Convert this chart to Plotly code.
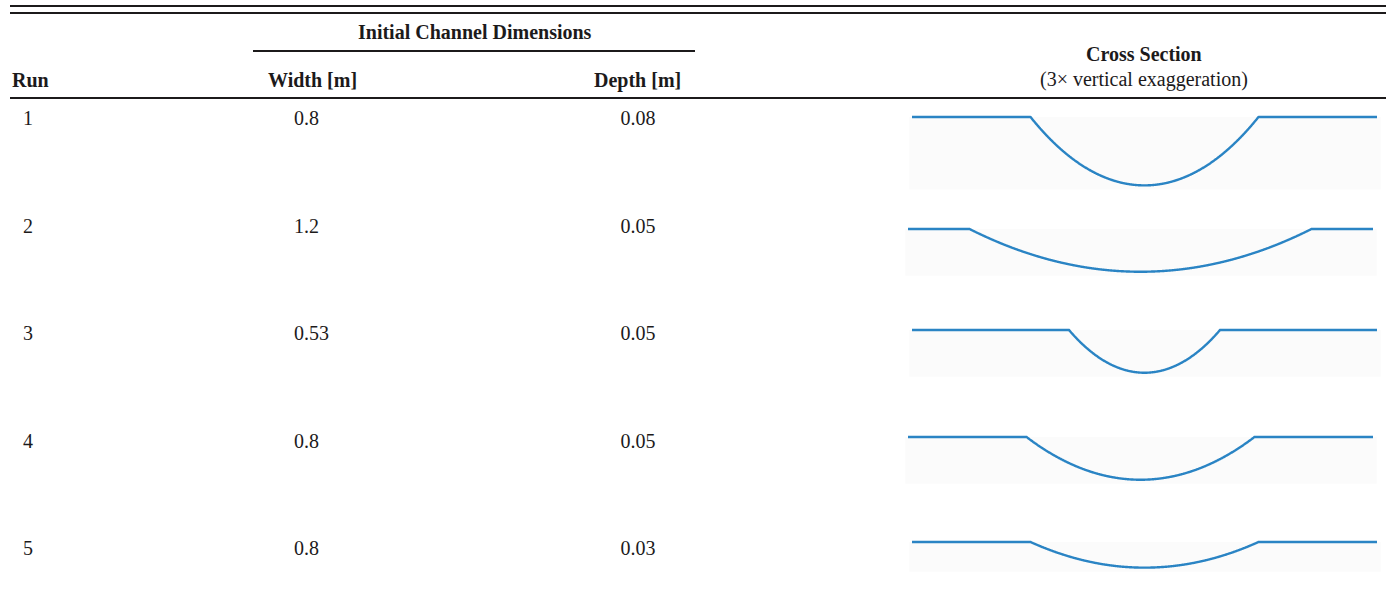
import numpy as np
import plotly.graph_objects as go

# ---------------- data ----------------
runs = [1, 2, 3, 4, 5]
widths = [0.8, 1.2, 0.53, 0.8, 0.8]          # initial channel width [m]
depths = [0.08, 0.05, 0.05, 0.05, 0.03]      # initial channel depth [m]
width_labels = ["0.8", "1.2", "0.53", "0.8", "0.8"]
depth_labels = ["0.08", "0.05", "0.05", "0.05", "0.03"]
EXAG = 3                                      # vertical exaggeration

# ---------------- layout constants ----------------
W, H = 1386, 601
FONT = "Liberation Serif"
FS = 20
TXT = "#1c1a1b"
BLUE = "#2a84c4"
BANK_HALF = 0.816                             # half extent of drawn section [m]
XS_WIDTH_PX = 465
# per-row placement of the cross-section drawing (left px, top-of-bank px)
xs_left = [912, 908, 912, 908, 912]
xs_top = [117, 229, 330, 437, 542]
PAD_TOP, PAD_BOT = 8, 80

def px_x(p):
    return p / W

def px_y(p):
    return 1 - p / H

fig = go.Figure()

# ---- main (table text) axis: x in pixel-like units, y = run number ----
ROW0, ROWSTEP = 12.4, 107.6      # row r centre at ROW0 + ROWSTEP*r px
for xpos, labels, pos in [(28, [str(r) for r in runs], "middle center"),
                          (294, width_labels, "middle right"),
                          (638, depth_labels, "middle center")]:
    fig.add_trace(go.Scatter(
        x=[xpos] * len(runs), y=runs, mode="text",
        text=labels, textposition=pos,
        textfont=dict(family=FONT, size=FS, color=TXT),
        hoverinfo="skip", showlegend=False, xaxis="x", yaxis="y"))

layout_axes = dict(
    xaxis=dict(domain=[0, 1], range=[0, W], visible=False, fixedrange=True),
    yaxis=dict(domain=[0, 1],
               range=[(H - ROW0) / ROWSTEP, -ROW0 / ROWSTEP],
               visible=False, fixedrange=True),
)

shapes = []
px_per_m = XS_WIDTH_PX / (2 * BANK_HALF)

# ---- cross sections ----
for i, (w, d) in enumerate(zip(widths, depths)):
    k = i + 2
    xa, ya = f"x{k}", f"y{k}"
    x = np.linspace(-BANK_HALF, BANK_HALF, 1201)
    R = (w ** 2 / 4 + d ** 2) / (2 * d)
    z = np.where(np.abs(x) < w / 2,
                 (R - d) - np.sqrt(np.maximum(R ** 2 - x ** 2, 0)), 0.0)
    fig.add_trace(go.Scatter(
        x=x, y=EXAG * z, mode="lines",
        line=dict(color=BLUE, width=2.4, simplify=False),
        hoverinfo="skip", showlegend=False, xaxis=xa, yaxis=ya))
    top = xs_top[i]
    bot = min(top + PAD_BOT, H)
    pad_bot = bot - top
    layout_axes[f"xaxis{k}"] = dict(
        domain=[px_x(xs_left[i]), px_x(xs_left[i] + XS_WIDTH_PX)],
        range=[-BANK_HALF, BANK_HALF], visible=False, fixedrange=True,
        anchor=ya)
    layout_axes[f"yaxis{k}"] = dict(
        domain=[px_y(bot), px_y(top - PAD_TOP)],
        range=[-pad_bot / px_per_m, PAD_TOP / px_per_m],
        visible=False, fixedrange=True, anchor=xa)
    # faint image background beneath the section
    shapes.append(dict(
        type="rect", xref=f"{xa} domain", yref=ya, layer="below",
        x0=-0.006, x1=1.008, y0=0, y1=-EXAG * d - 4 / px_per_m,
        line=dict(width=0), fillcolor="#fbfbfb"))

# ---- rules ----
def hline(y, x0, x1, w=2):
    return dict(type="line", xref="paper", yref="paper",
                x0=px_x(x0), x1=px_x(x1), y0=px_y(y), y1=px_y(y),
                line=dict(color=TXT, width=w))

shapes += [hline(6, 10, W), hline(13, 10, W), hline(51, 253, 695),
           hline(98, 10, W)]

# ---- header text ----
def ann(text, x, y, xanchor="center", bold=True):
    return dict(text=f"<b>{text}</b>" if bold else text,
                x=px_x(x), y=px_y(y), xref="paper", yref="paper",
                xanchor=xanchor, yanchor="middle", showarrow=False,
                font=dict(family=FONT, size=FS, color=TXT))

annotations = [
    ann("Initial Channel Dimensions", 475, 32),
    ann("Cross Section", 1144, 54),
    ann("(3\u00d7 vertical exaggeration)", 1144, 79, bold=False),
    ann("Run", 10, 80, xanchor="left"),
    ann("Width [m]", 312, 80),
    ann("Depth [m]", 637, 80),
]

fig.update_layout(
    width=W, height=H,
    margin=dict(l=0, r=0, t=0, b=0),
    paper_bgcolor="white", plot_bgcolor="rgba(0,0,0,0)",
    showlegend=False,
    shapes=shapes, annotations=annotations,
    **layout_axes,
)

fig.write_html("out.html", config=dict(displayModeBar=False))
